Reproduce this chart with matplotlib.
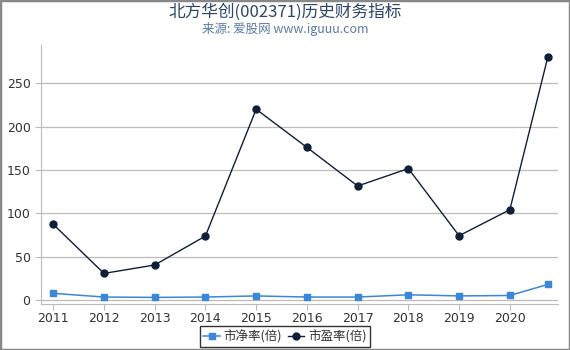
import matplotlib
matplotlib.use("Agg")
import matplotlib.pyplot as plt
from matplotlib.patches import Rectangle

plt.rcParams['font.family'] = ['DejaVu Sans', 'Noto Sans CJK SC']

x_pos = [2011, 2012, 2013, 2014, 2015, 2016, 2017, 2018, 2019, 2020, 2020.75]
tick_years = [2011, 2012, 2013, 2014, 2015, 2016, 2017, 2018, 2019, 2020]
pb = [7.5, 3.2, 2.8, 3.2, 4.5, 3.2, 3.2, 5.8, 4.5, 5.0, 17.8]
pe = [87.2, 30.5, 40.2, 73.6, 220.0, 176.0, 131.4, 151.5, 74.0, 104.0, 280.5]
y_ticks = [0, 50, 100, 150, 200, 250]

fig = plt.figure(figsize=(5.7, 3.5), dpi=100)
ax = fig.add_axes([0.072, 0.131, 0.907, 0.74])

ax.plot(x_pos, pb, color='#3a86d8', marker='s', markersize=5, lw=1.1,
        label='市净率(倍)', zorder=3)
ax.plot(x_pos, pe, color='#0f1f38', marker='o', markersize=5, lw=1.0,
        label='市盈率(倍)', zorder=3)

ax.set_xlim(2010.76, 2020.95)
ax.set_ylim(-5, 294)
ax.set_xticks(tick_years)
ax.set_xticklabels([str(y) for y in tick_years])
ax.set_yticks(y_ticks)
ax.grid(axis='y', color='#bbbbbb', lw=0.9)
ax.set_axisbelow(True)
for s in ['top', 'right']:
    ax.spines[s].set_visible(False)
for s in ['left', 'bottom']:
    ax.spines[s].set_color('#bbbbbb')
ax.tick_params(axis='both', colors='#bbbbbb', labelcolor='#333333', labelsize=9, length=4)
ax.tick_params(axis='x', pad=2)

fig.text(0.5, 0.965, '北方华创(002371)历史财务指标', ha='center', va='center',
         fontsize=12, color='#2b4566', family=['Noto Sans CJK SC', 'DejaVu Sans'])
fig.text(0.5, 0.918, '来源: 爱股网 www.iguuu.com', ha='center', va='center',
         fontsize=9, color='#5b7ba3', family=['Noto Sans CJK SC', 'DejaVu Sans'])

leg = fig.legend(loc='center', bbox_to_anchor=(0.5, 0.038), ncol=2, frameon=True,
                 fancybox=False, edgecolor='black', handlelength=1.3,
                 handletextpad=0.3, columnspacing=0.5, borderpad=0.3,
                 prop={'family': ['Noto Sans CJK SC', 'DejaVu Sans'], 'size': 9})
leg.get_frame().set_linewidth(1.0)
for t in leg.get_texts():
    t.set_color('#333333')

fig.patches.append(Rectangle((0, 0), 1, 1, transform=fig.transFigure, fill=False,
                             edgecolor='#888888', lw=2.5))

fig.savefig('out.png', dpi=100)
